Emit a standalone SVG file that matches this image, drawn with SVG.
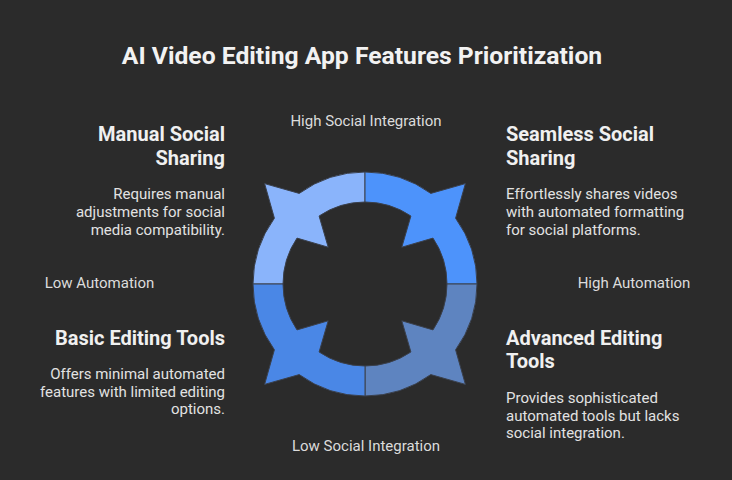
<svg xmlns="http://www.w3.org/2000/svg" width="732" height="480" viewBox="0 0 732 480">
<defs>
<style>
.title{font-family:Roboto,"Liberation Sans",sans-serif;font-weight:700;font-size:24.7px;fill:#f2f2f2}
.head{font-family:Roboto,"Liberation Sans",sans-serif;font-weight:700;font-size:20px;fill:#f0f0f0}
.desc{font-family:Roboto,"Liberation Sans",sans-serif;font-size:15px;fill:#e2e2e2}
.axis{font-family:Roboto,"Liberation Sans",sans-serif;font-size:15px;fill:#dcdcdc}
.seg{stroke:#3a404c;stroke-width:1}
</style>
<path id="quad" d="M253,284 A112,112 0 0 1 274.4,218.2 L264.6,183.6 L299.2,193.4 A112,112 0 0 1 365,172 L365,202 A82,82 0 0 0 319.1,216 L328.2,247.2 L297,238.1 A82,82 0 0 0 283,284 Z"/>
</defs>
<rect width="732" height="480" fill="#2b2b2b"/>
<text class="title" x="362" y="64" text-anchor="middle">AI Video Editing App Features Prioritization</text>
<g id="wheel">
<use href="#quad" class="seg" fill="#8ab4fb"/>
<use href="#quad" class="seg" fill="#4d93fb" transform="rotate(90 365 284)"/>
<use href="#quad" class="seg" fill="#5e84c0" transform="rotate(180 365 284)"/>
<use href="#quad" class="seg" fill="#4a87e6" transform="rotate(270 365 284)"/>
</g>
<g id="manual-social-sharing">
<text class="head" text-anchor="end" x="225" y="141">Manual Social</text>
<text class="head" text-anchor="end" x="225" y="165">Sharing</text>
<text class="desc" text-anchor="end" x="225" y="199">Requires manual</text>
<text class="desc" text-anchor="end" x="225" y="217">adjustments for social</text>
<text class="desc" text-anchor="end" x="225" y="235">media compatibility.</text>
</g>
<g id="seamless-social-sharing">
<text class="head" x="506" y="141">Seamless Social</text>
<text class="head" x="506" y="165">Sharing</text>
<text class="desc" x="506" y="199">Effortlessly shares videos</text>
<text class="desc" x="506" y="217">with automated formatting</text>
<text class="desc" x="506" y="235">for social platforms.</text>
</g>
<g id="basic-editing-tools">
<text class="head" text-anchor="end" x="225" y="345">Basic Editing Tools</text>
<text class="desc" text-anchor="end" x="225" y="379">Offers minimal automated</text>
<text class="desc" text-anchor="end" x="225" y="397">features with limited editing</text>
<text class="desc" text-anchor="end" x="225" y="414">options.</text>
</g>
<g id="advanced-editing-tools">
<text class="head" x="506" y="345">Advanced Editing</text>
<text class="head" x="506" y="368">Tools</text>
<text class="desc" x="506" y="403">Provides sophisticated</text>
<text class="desc" x="506" y="421">automated tools but lacks</text>
<text class="desc" x="506" y="438">social integration.</text>
</g>
<g id="axes">
<text class="axis" x="366" y="126" text-anchor="middle">High Social Integration</text>
<text class="axis" x="366" y="451" text-anchor="middle">Low Social Integration</text>
<text class="axis" x="99.5" y="288" text-anchor="middle">Low Automation</text>
<text class="axis" x="634" y="288" text-anchor="middle">High Automation</text>
</g>
</svg>
